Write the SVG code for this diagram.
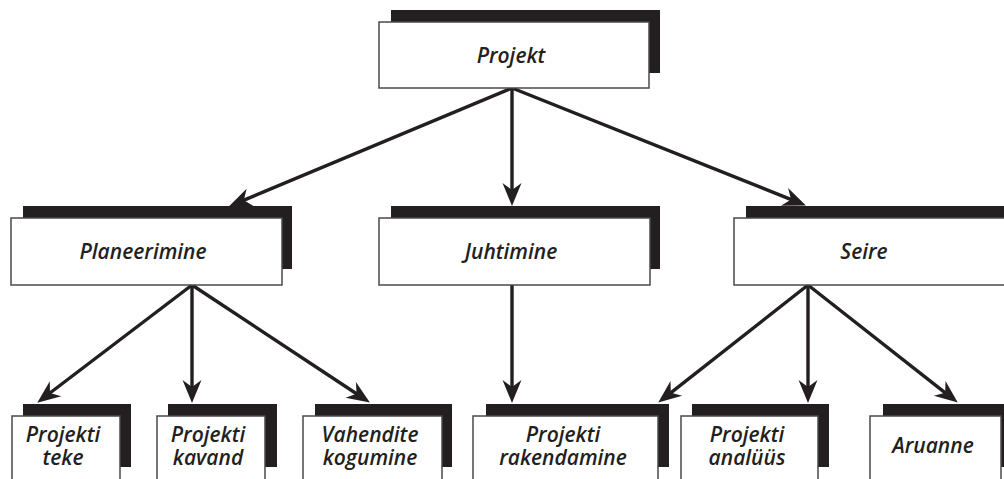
<svg xmlns="http://www.w3.org/2000/svg" width="1004" height="479" viewBox="0 0 1004 479">
<style>
.sh{fill:#231f20}
.bx{fill:#fff;stroke:#4a4a4a;stroke-width:1.5}
.t{font-family:"Open Sans","Liberation Sans",sans-serif;font-style:italic;font-weight:600;font-size:21px;fill:#231f20;text-anchor:middle}
.c{stroke:#231f20;stroke-width:3.4;fill:none;marker-end:url(#ah)}
</style>
<defs>
<marker id="ah" markerUnits="userSpaceOnUse" markerWidth="40" markerHeight="40" refX="0" refY="0" viewBox="-20 -20 40 40" orient="auto" overflow="visible">
<path d="M11,0 L-12,-9.5 L-5,0 L-12,9.5 Z" fill="#231f20"/>
</marker>
</defs>
<rect width="1004" height="479" fill="#fff"/>
<g id="connectors">
<line class="c" x1="512" y1="88" x2="239.2" y2="202.1"/>
<line class="c" x1="512" y1="88" x2="512" y2="195"/>
<line class="c" x1="512" y1="88" x2="795.7" y2="201.3"/>
<line class="c" x1="192" y1="285" x2="46" y2="396"/>
<line class="c" x1="192" y1="285" x2="192" y2="392"/>
<line class="c" x1="192" y1="285" x2="360.7" y2="396.5"/>
<line class="c" x1="512" y1="285" x2="512" y2="392"/>
<line class="c" x1="808" y1="285" x2="666.9" y2="395.8"/>
<line class="c" x1="808" y1="285" x2="808" y2="392"/>
<line class="c" x1="808" y1="285" x2="949.1" y2="395.8"/>
</g>
<g id="n-projekt">
<rect class="sh" x="391" y="10" width="269" height="63"/>
<rect class="bx" x="379" y="22" width="270" height="66"/>
<text class="t" x="511" y="63">Projekt</text>
</g>
<g id="n-planeerimine">
<rect class="sh" x="23" y="206" width="269" height="63"/>
<rect class="bx" x="11" y="218" width="271" height="67"/>
<text class="t" x="143" y="259">Planeerimine</text>
</g>
<g id="n-juhtimine">
<rect class="sh" x="391" y="206" width="269" height="63"/>
<rect class="bx" x="379" y="218" width="271" height="67"/>
<text class="t" x="511" y="259">Juhtimine</text>
</g>
<g id="n-seire">
<rect class="sh" x="746" y="206" width="270" height="63"/>
<rect class="bx" x="734" y="218" width="272" height="67"/>
<text class="t" x="864" y="259">Seire</text>
</g>
<g id="n-teke">
<rect class="sh" x="23" y="404" width="108" height="63"/>
<rect class="bx" x="12" y="416" width="108" height="68"/>
<text class="t" x="63" y="442">Projekti</text>
<text class="t" x="63" y="465">teke</text>
</g>
<g id="n-kavand">
<rect class="sh" x="168" y="404" width="109" height="63"/>
<rect class="bx" x="157" y="416" width="108" height="68"/>
<text class="t" x="208" y="442">Projekti</text>
<text class="t" x="208" y="465">kavand</text>
</g>
<g id="n-vahendite">
<rect class="sh" x="315" y="404" width="137" height="63"/>
<rect class="bx" x="303" y="416" width="139" height="68"/>
<text class="t" x="370" y="442">Vahendite</text>
<text class="t" x="370" y="465">kogumine</text>
</g>
<g id="n-rakendamine">
<rect class="sh" x="486" y="404" width="183" height="63"/>
<rect class="bx" x="473" y="416" width="185" height="68"/>
<text class="t" x="563" y="442">Projekti</text>
<text class="t" x="563" y="465">rakendamine</text>
</g>
<g id="n-analyys">
<rect class="sh" x="692" y="404" width="137" height="63"/>
<rect class="bx" x="681" y="416" width="137" height="68"/>
<text class="t" x="747" y="442">Projekti</text>
<text class="t" x="747" y="465">analüüs</text>
</g>
<g id="n-aruanne">
<rect class="sh" x="883" y="404" width="125" height="63"/>
<rect class="bx" x="870" y="416" width="131" height="68"/>
<text class="t" x="933" y="453">Aruanne</text>
</g>
</svg>
